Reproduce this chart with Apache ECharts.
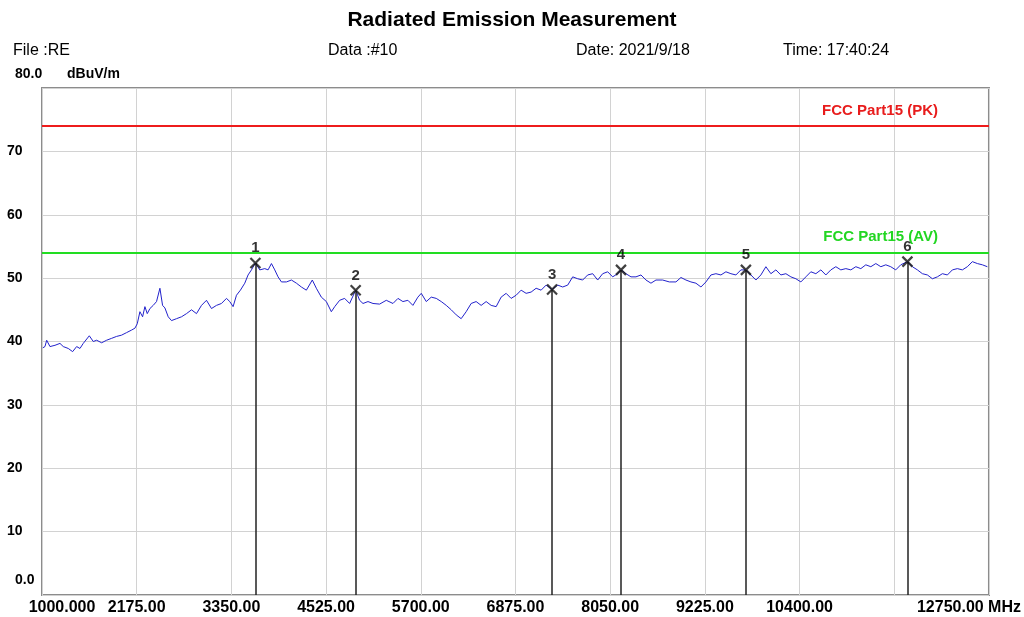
<!DOCTYPE html>
<html>
<head>
<meta charset="utf-8">
<script src="https://cdn.jsdelivr.net/npm/echarts@6/dist/echarts.min.js"></script>
<style>
html,body{margin:0;padding:0;background:#fff;}
#chart{width:1024px;height:617px;}
</style>
</head>
<body>
<div id="chart"></div>
<script>
// Sweep frequencies (MHz) and measured level (dBuV/m)
const freqMHz = [1010,1037,1058,1099,1161,1223,1264,1326,1380,1430,1471,1512,1587,1636,1678,1740,1802,1864,1925,1987,2049,2111,2153,2182,2215,2248,2277,2306,2339,2380,2421,2463,2496,2525,2566,2607,2669,2731,2793,2855,2917,2979,3041,3103,3165,3227,3289,3330,3371,3413,3462,3516,3557,3599,3648,3702,3764,3805,3847,3888,3929,3971,4033,4095,4157,4218,4280,4354,4404,4466,4528,4590,4632,4693,4755,4817,4892,
4941,4983,5045,5107,5189,5272,5355,5417,5478,5540,5602,5664,5706,5768,5830,5892,5954,6016,6078,6140,6201,6263,6325,6387,6449,6511,6573,6635,6697,6759,6821,6883,6945,7007,7069,7131,7193,7255,7329,7399,7461,7523,7585,7647,7709,7771,7833,7895,7957,8019,8081,8143,8184,8246,8308,8370,8432,8494,8556,8618,
8701,8784,8866,8928,8990,9052,9114,9176,9238,9300,9362,9424,9486,9548,9610,9672,9734,9796,9858,9920,9982,10044,10106,10168,10230,10292,10354,10416,10478,10540,10602,10664,10726,10788,10850,10912,10974,11036,11098,11160,11222,11284,11346,11408,11470,11531,11593,11655,11738,11800,11862,11924,11986,12048,12110,12172,12234,12296,12358,12420,12482,12544,12606,12668,12730];
const levelDb = [39.0,39.2,40.2,39.2,39.4,39.7,39.2,38.9,38.4,39.2,38.9,39.7,40.9,40.0,40.2,39.8,40.2,40.5,40.8,41.0,41.4,41.8,42.1,42.8,44.7,43.9,45.5,44.4,45.2,45.7,46.3,48.4,45.7,45.3,43.9,43.3,43.6,43.9,44.4,45.0,44.4,45.7,46.5,45.2,45.7,46.0,46.8,46.3,45.5,47.3,48.1,49.2,50.5,51.3,52.4,51.3,51.5,51.3,52.3,51.3,50.2,49.4,49.4,49.7,49.2,48.6,48.1,49.7,48.4,47.0,46.3,44.7,45.5,46.5,46.8,46.0,48.1,
46.5,46.0,46.3,46.0,45.9,46.5,46.0,46.8,46.3,46.5,45.7,47.0,47.6,46.3,47.0,46.8,46.3,45.7,45.0,44.2,43.6,44.7,46.0,46.3,45.7,46.3,45.7,45.5,47.0,47.6,46.8,47.3,48.1,47.6,47.8,48.4,48.1,48.9,48.2,48.9,48.6,48.9,50.2,49.9,49.7,50.5,50.7,49.7,50.7,51.0,50.2,50.7,51.3,50.7,50.2,50.2,50.5,49.7,49.2,49.7,
49.7,49.4,49.4,50.1,49.7,49.4,49.2,48.6,49.4,50.5,50.7,50.5,51.0,50.7,50.5,51.3,51.3,50.5,49.7,50.5,51.8,50.7,51.3,50.5,50.7,50.2,49.9,49.4,50.2,51.0,50.7,51.3,50.5,51.3,51.8,51.3,51.5,51.3,51.8,51.5,52.1,51.8,52.3,51.8,52.1,51.8,51.3,52.1,52.6,51.8,51.3,50.7,50.5,49.9,50.2,50.7,50.5,51.3,51.5,51.3,51.8,52.6,52.3,52.1,51.8];

// Markers
const markerFreq = [3648,4892,7329,8184,9734,11738];
const markerLevel = [52.4,48.1,48.2,51.3,51.3,52.6];
const markerNames = ['1','2','3','4','5','6'];

// Limit lines
const limitPK = 74;
const limitAV = 54;
const limitPKName = 'FCC Part15 (PK)';
const limitAVName = 'FCC Part15 (AV)';

// Axis ticks
const xTickValues = [1000,2175,3350,4525,5700,6875,8050,9225,10400,11575,12750];
const xTickLabels = ['1000.000','2175.00','3350.00','4525.00','5700.00','6875.00','8050.00','9225.00','10400.00','','12750.00 MHz'];
const yTickValues = [0,10,20,30,40,50,60,70,80];
const yTickLabels = ['0.0','10','20','30','40','50','60','70','80.0'];

const FONT = '"Liberation Sans", Arial, sans-serif';

const chart = echarts.init(document.getElementById('chart'), null, {renderer:'canvas'});

const traceData = freqMHz.map((f,i)=>[f, levelDb[i]]);
const markerData = markerFreq.map((f,i)=>({value:[f, markerLevel[i]], name: markerNames[i]}));
const markerLines = markerFreq.map((f,i)=>[{coord:[f, markerLevel[i]]},{coord:[f, 0]}]);

chart.setOption({
  animation:false,
  backgroundColor:'#ffffff',
  title:[
    {text:'Radiated Emission Measurement', left:'center', top:5, textStyle:{fontFamily:FONT, fontSize:21, fontWeight:'bold', color:'#000'}},
    {text:'File :RE', left:8, top:38, textStyle:{fontFamily:FONT, fontSize:16, fontWeight:'normal', color:'#000'}},
    {text:'Data :#10', left:323, top:38, textStyle:{fontFamily:FONT, fontSize:16, fontWeight:'normal', color:'#000'}},
    {text:'Date: 2021/9/18', left:571, top:38, textStyle:{fontFamily:FONT, fontSize:16, fontWeight:'normal', color:'#000'}},
    {text:'Time: 17:40:24', left:778, top:38, textStyle:{fontFamily:FONT, fontSize:16, fontWeight:'normal', color:'#000'}}
  ],
  grid:{left:42, right:31, top:88, bottom:22, show:true, borderColor:'#8c8c8c', borderWidth:2, backgroundColor:'#fff', containLabel:false},
  xAxis:{
    type:'value', min:1000, max:12750, interval:1175,
    axisLine:{show:false}, axisTick:{show:false},
    splitLine:{show:true, lineStyle:{color:'#d2d2d2', width:1}},
    axisLabel:{
      show:true, margin:5, showMinLabel:true, showMaxLabel:true,
      fontFamily:FONT, fontSize:16, fontWeight:'bold', color:'#000',
      formatter:function(v){
        const i = xTickValues.indexOf(Math.round(v));
        if(i<0) return '';
        const t = xTickLabels[i];
        if(t==='') return '';
        if(i===0) return '{first|'+t+'}';
        if(i===xTickValues.length-1) return '{last|'+t+'}';
        return t;
      },
      rich:{
        first:{fontFamily:FONT, fontSize:16, fontWeight:'bold', color:'#000', padding:[0,0,0,40]},
        last:{fontFamily:FONT, fontSize:16, fontWeight:'bold', color:'#000', padding:[0,40,0,0]}
      }
    }
  },
  yAxis:{
    type:'value', min:0, max:80, interval:10,
    name:'dBuV/m', nameLocation:'end', nameGap:14,
    nameTextStyle:{fontFamily:FONT, fontSize:14, fontWeight:'bold', color:'#000', align:'left', verticalAlign:'middle', padding:[0,0,0,25]},
    axisLine:{show:false}, axisTick:{show:false},
    splitLine:{show:true, lineStyle:{color:'#d2d2d2', width:1}},
    axisLabel:{
      show:true, margin:35, align:'left', showMinLabel:true, showMaxLabel:true,
      fontFamily:FONT, fontSize:14, fontWeight:'bold', color:'#000',
      formatter:function(v){
        const i = yTickValues.indexOf(Math.round(v));
        if(i<0) return '';
        const t = yTickLabels[i];
        if(i===0) return '{lo|'+t+'}';
        if(i===yTickValues.length-1) return '{hi|'+t+'}';
        return t;
      },
      rich:{
        lo:{fontFamily:FONT, fontSize:14, fontWeight:'bold', color:'#000', padding:[0,0,30,8]},
        hi:{fontFamily:FONT, fontSize:14, fontWeight:'bold', color:'#000', padding:[0,0,28,8]}
      }
    }
  },
  series:[
    {
      type:'line', data:traceData, showSymbol:false, symbol:'none',
      lineStyle:{color:'#2222cc', width:1}, z:3,
      markLine:{
        silent:true, symbol:['none','none'],
        data:[
          {yAxis:limitPK, lineStyle:{color:'#ee1c1c', width:2, type:'solid'},
           label:{show:true, position:'insideEndTop', formatter:limitPKName, color:'#e81c1c', fontFamily:FONT, fontSize:15, fontWeight:'bold', padding:[0,46,3,0]}},
          {yAxis:limitAV, lineStyle:{color:'#22dd22', width:2, type:'solid'},
           label:{show:true, position:'insideEndTop', formatter:limitAVName, color:'#22d622', fontFamily:FONT, fontSize:15, fontWeight:'bold', padding:[0,46,3,0]}}
        ]
      }
    },
    {
      type:'scatter', data:markerData, z:5,
      symbol:'path://M0,0L10,10M10,0L0,10', symbolSize:10,
      itemStyle:{color:'rgba(0,0,0,0)', borderColor:'#111', borderWidth:2.2},
      label:{show:true, position:'top', distance:1, formatter:function(p){return p.name;}, fontFamily:FONT, fontSize:15, fontWeight:'bold', color:'#000'},
      markLine:{
        silent:true, symbol:['none','none'],
        lineStyle:{color:'#222', width:1.5, type:'solid'},
        label:{show:false},
        data:markerLines
      }
    }
  ]
});
</script>
</body>
</html>
